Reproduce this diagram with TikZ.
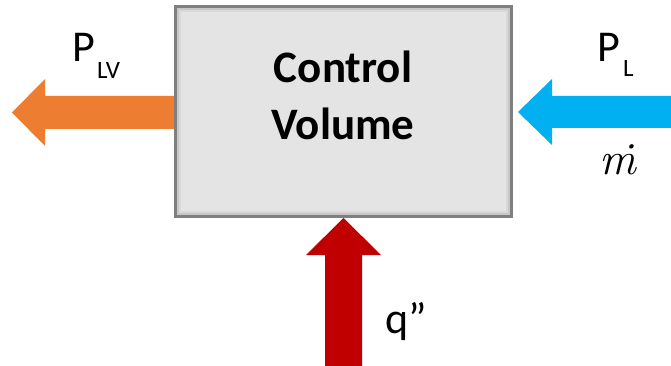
\documentclass[tikz,border=0pt]{standalone}
\usepackage{fontspec}
\setmainfont{Carlito}
\newfontfamily\lmr{Latin Modern Roman}
\definecolor{orangeA}{HTML}{ED7D31}
\definecolor{blueA}{HTML}{00B0F0}
\definecolor{redA}{HTML}{C00000}
\definecolor{boxfill}{HTML}{E4E4E4}
\definecolor{boxedge}{HTML}{7F7F7F}
\begin{document}
\begin{tikzpicture}[x=1pt,y=-1pt,
  lbl/.style={inner sep=0pt, anchor=base west, font=\fontsize{44}{44}\selectfont},
  sub/.style={inner sep=0pt, anchor=base west, font=\fontsize{25}{25}\selectfont},
  cvtext/.style={inner sep=0pt, anchor=base, font=\bfseries\fontsize{45}{45}\selectfont}]
\useasboundingbox (0,0) rectangle (671,366);
% arrows
\fill[orangeA] (178,96) -- (45,96) -- (45,79) -- (12,112.5) -- (45,146) -- (45,129) -- (178,129) -- cycle;
\fill[blueA] (671,96) -- (552,96) -- (552,79) -- (518,112) -- (552,145) -- (552,128) -- (671,128) -- cycle;
\fill[redA] (325,366) -- (325,255) -- (306,255) -- (343.5,218) -- (381,255) -- (362,255) -- (362,366) -- cycle;
% box
\node[draw=boxedge, line width=3pt, fill=boxfill, minimum width=336pt, minimum height=210pt,
      anchor=north west, inner sep=0pt, outer sep=0pt] (cv) at (175.5,6.5) {};
\draw[color=black!22, line width=2pt] (178,9) rectangle (509,214);
\draw[color=black!15, line width=2pt] (180,11) rectangle (507,212);
\node[cvtext] (t1) at (343,83) {Control};
\node[cvtext] (t2) at (343,140) {Volume};
% labels
\node[lbl] (plv) at (72,62) {P};
\node[sub] (lv) at (97,79) {LV};
\node[lbl] (pl) at (597,62) {P};
\node[sub] (l) at (623,77) {L};
\node[inner sep=0pt, anchor=base, font=\lmr\itshape\fontsize{46}{46}\selectfont] (md) at (618,175) {\.m};
\node[lbl] (q) at (385,333) {q”};
\end{tikzpicture}
\end{document}
